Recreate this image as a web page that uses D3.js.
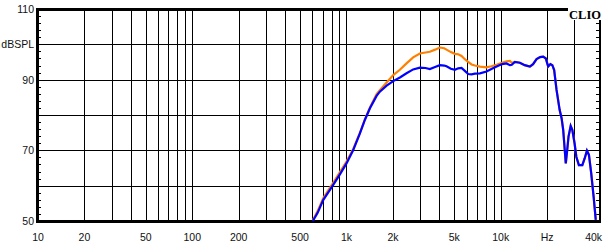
<!DOCTYPE html>
<html>
<head>
<meta charset="utf-8">
<script src="https://cdn.jsdelivr.net/npm/d3@7"></script>
<style>
  html, body { margin: 0; padding: 0; background: #fff; }
  svg { display: block; }
</style>
</head>
<body>
<svg id="chart" width="612" height="249"></svg>
<script>
// ---- data ----
const freqs = [605, 650, 706, 760, 820, 900, 1000, 1104, 1220, 1315, 1419, 1567, 1645, 1820, 2010, 2219, 2450, 2705, 2990, 3250, 3470, 3750, 4027, 4300, 4452, 4750, 5040, 5300, 5570, 5850, 6150, 6470, 6800, 7330, 8090, 8700, 9400, 10200, 10900, 11460, 11800, 12340, 13300, 14300, 15440, 16200, 17070, 18000, 18850, 19600, 20300, 21000, 21600, 22200, 23000, 24100, 24800, 25400, 26000, 26400, 26900, 27500, 28400, 29100, 30100, 30900, 32100, 33800, 35000, 36200, 37300, 38600, 40000, 41300];
const orangeDb = [50.2, 52.8, 56.4, 58.6, 60.8, 63.6, 66.8, 70.3, 74.9, 78.7, 82.1, 85.9, 87.0, 89.2, 91.3, 92.8, 94.6, 96.3, 97.4, 97.7, 97.9, 98.5, 99.1, 98.9, 98.5, 97.8, 97.3, 97.2, 96.7, 95.8, 95.0, 94.3, 94.0, 93.7, 93.5, 93.8, 94.2, 94.8, 95.2, 95.3, 94.8, 95.0, 94.8, 94.1, 93.7, 94.4, 95.8, 96.4, 96.5, 96.0, 93.7, 94.4, 94.1, 92.7, 87.1, 81.4, 79.1, 75.8, 70.1, 66.3, 69.6, 73.9, 76.9, 75.8, 72.0, 68.2, 65.8, 65.8, 67.7, 69.9, 68.7, 63.5, 56.9, 50.3];
const blueDb = [50.0, 52.3, 55.9, 58.0, 60.2, 63.0, 66.3, 70.0, 74.7, 78.6, 81.9, 85.4, 86.6, 88.3, 89.6, 90.6, 91.8, 92.9, 93.4, 93.3, 93.0, 93.6, 94.1, 94.0, 93.8, 93.1, 92.8, 93.2, 93.3, 92.5, 91.6, 91.5, 91.7, 91.8, 92.3, 93.0, 93.7, 94.4, 94.6, 94.1, 94.2, 95.0, 94.8, 94.1, 93.7, 94.4, 95.8, 96.4, 96.5, 96.0, 93.7, 94.4, 94.1, 92.7, 87.1, 81.4, 79.1, 75.8, 70.1, 66.3, 69.6, 73.9, 76.9, 75.8, 72.0, 68.2, 65.8, 65.8, 67.7, 69.9, 68.7, 63.5, 56.9, 50.3];

const xGridValues = [20, 30, 40, 50, 60, 70, 80, 90, 100, 200, 300, 400, 500, 600, 700, 800, 900, 1000, 2000, 3000, 4000, 5000, 6000, 7000, 8000, 9000, 10000, 20000, 30000];
const xTickValues = [10, 20, 50, 100, 200, 500, 1000, 2000, 5000, 10000, 20000, 40000];
const xTickLabels = ["10", "20", "50", "100", "200", "500", "1k", "2k", "5k", "10k", "Hz", "40k"];
const yGridValues = [60, 70, 80, 90, 100];
const yTickValues = [110, 100, 90, 70, 50];
const yTickLabels = ["110", "dBSPL", "90", "70", "50"];
const yMinorValues = [52, 54, 56, 58, 62, 64, 66, 68, 72, 74, 76, 78, 82, 84, 86, 88, 92, 94, 96, 98, 102, 104, 106, 108];

// ---- layout ----
const pL = 38, pR = 600, pT = 9, pB = 221;
const svg = d3.select("#chart");
const x = d3.scaleLog().domain([10, 44000]).range([pL, pR]);
const y = d3.scaleLinear().domain([50, 110]).range([pB, pT]);

// grid
const grid = svg.append("g").attr("shape-rendering", "crispEdges");
grid.selectAll("line.vx").data(xGridValues).join("line")
  .attr("x1", d => Math.round(x(d)) + 0.5).attr("x2", d => Math.round(x(d)) + 0.5)
  .attr("y1", pT).attr("y2", pB)
  .attr("stroke", "#000").attr("stroke-width", 1);
grid.selectAll("line.hy").data(yGridValues).join("line")
  .attr("x1", pL).attr("x2", pR)
  .attr("y1", d => Math.round(y(d)) + 0.5).attr("y2", d => Math.round(y(d)) + 0.5)
  .attr("stroke", "#000").attr("stroke-width", 1);

// minor ticks left & right (inside)
grid.selectAll("line.ml").data(yMinorValues).join("line")
  .attr("x1", pL).attr("x2", pL + 3)
  .attr("y1", d => Math.round(y(d)) + 0.5).attr("y2", d => Math.round(y(d)) + 0.5)
  .attr("stroke", "#000");
grid.selectAll("line.mr").data(yMinorValues).join("line")
  .attr("x1", pR - 4).attr("x2", pR)
  .attr("y1", d => Math.round(y(d)) + 0.5).attr("y2", d => Math.round(y(d)) + 0.5)
  .attr("stroke", "#000");

// frame
const frame = svg.append("g").attr("shape-rendering", "crispEdges");
frame.append("line").attr("x1", pL - 2).attr("x2", pR + 1).attr("y1", pT).attr("y2", pT)
  .attr("stroke", "#000").attr("stroke-width", 3);
frame.append("line").attr("x1", pR).attr("x2", pR).attr("y1", pT).attr("y2", pB)
  .attr("stroke", "#000").attr("stroke-width", 2);
frame.append("line").attr("x1", pL - 1).attr("x2", pL - 1).attr("y1", pT).attr("y2", pB + 1)
  .attr("stroke", "#000").attr("stroke-width", 3);
frame.append("line").attr("x1", pL - 2).attr("x2", pR + 1).attr("y1", pB).attr("y2", pB)
  .attr("stroke", "#000").attr("stroke-width", 3);

// curves
svg.append("clipPath").attr("id", "clip").append("rect")
  .attr("x", pL).attr("y", pT).attr("width", pR - pL).attr("height", pB - pT + 1);
const lineGen = (vals) => d3.line().x((d, i) => x(freqs[i])).y(d => y(d))(vals);
svg.append("path").attr("d", lineGen(orangeDb)).attr("fill", "none")
  .attr("stroke", "#ff8000").attr("stroke-width", 2.2).attr("clip-path", "url(#clip)");
svg.append("path").attr("d", lineGen(blueDb)).attr("fill", "none")
  .attr("stroke", "#0000ff").attr("stroke-width", 2.2).attr("clip-path", "url(#clip)");

// CLIO badge
svg.append("rect").attr("x", 568).attr("y", 4).attr("width", 40).attr("height", 16).attr("fill", "#fff");
svg.append("text").attr("x", 601).attr("y", 19).attr("text-anchor", "end")
  .style("font-family", "'Liberation Serif', 'Times New Roman', serif").style("font-weight", "bold")
  .style("font-size", "12.5px").text("CLIO");

// x labels
svg.append("g").selectAll("text").data(xTickValues).join("text")
  .attr("x", d => x(d)).attr("y", 241).attr("text-anchor", "middle")
  .style("font-family", "'Liberation Sans', Arial, sans-serif")
  .style("font-size", "10.5px").attr("fill", "#111")
  .text((d, i) => xTickLabels[i]);

// y labels
svg.append("g").selectAll("text").data(yTickValues).join("text")
  .attr("x", 34).attr("y", d => y(d) + 4).attr("text-anchor", "end")
  .style("font-family", "'Liberation Sans', Arial, sans-serif")
  .style("font-size", "10.5px").attr("fill", "#111")
  .text((d, i) => yTickLabels[i]);
</script>
</body>
</html>
